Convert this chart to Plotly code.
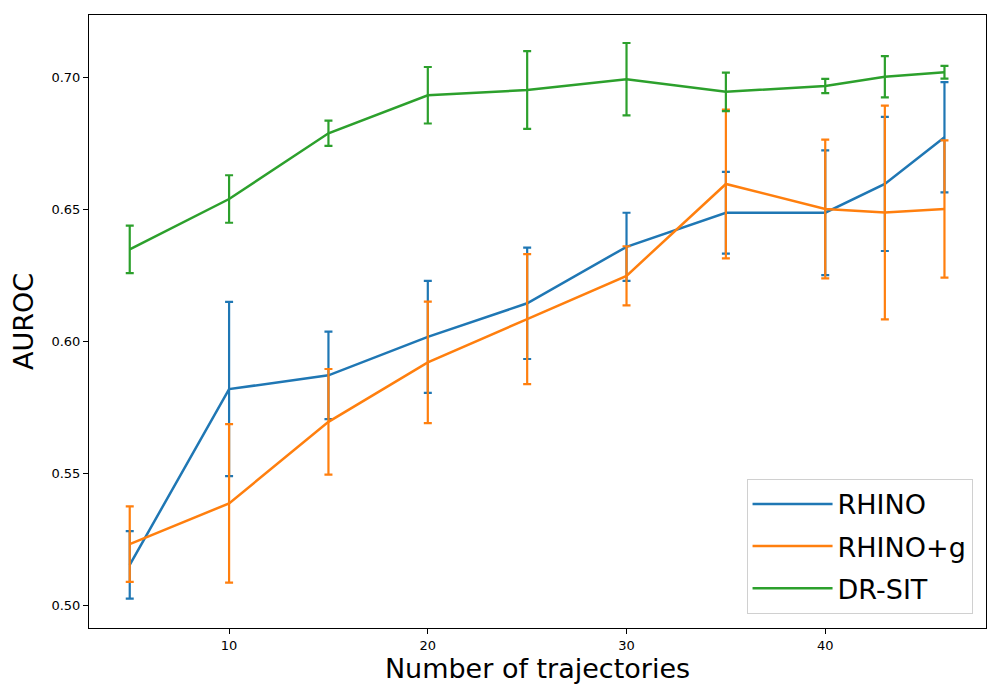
import plotly.graph_objects as go

x_vals = [5, 10, 15, 20, 25, 30, 35, 40, 43, 46]

rhino_mean = [0.5152, 0.5818, 0.5870, 0.6016, 0.6143, 0.6357, 0.6486, 0.6486, 0.6595, 0.6772]
rhino_err = [0.0128, 0.0330, 0.0166, 0.0212, 0.0211, 0.0129, 0.0155, 0.0236, 0.0254, 0.0209]

rhinog_mean = [0.5231, 0.5385, 0.5694, 0.5919, 0.6083, 0.6247, 0.6595, 0.6500, 0.6487, 0.6500]
rhinog_err = [0.0143, 0.0300, 0.0200, 0.0230, 0.0246, 0.0112, 0.0282, 0.0263, 0.0405, 0.0260]

drsit_mean = [0.6347, 0.6538, 0.6787, 0.6931, 0.6951, 0.6992, 0.6944, 0.6966, 0.7001, 0.7018]
drsit_err = [0.0090, 0.0090, 0.0048, 0.0107, 0.0147, 0.0137, 0.0073, 0.0027, 0.0078, 0.0024]

series = [
    ("RHINO", rhino_mean, rhino_err, "#1f77b4"),
    ("RHINO+g", rhinog_mean, rhinog_err, "#ff7f0e"),
    ("DR-SIT", drsit_mean, drsit_err, "#2ca02c"),
]

fig = go.Figure()
for name, m, e, c in series:
    fig.add_trace(go.Scatter(
        x=x_vals, y=m, name=name, mode="lines", legendgroup=name,
        line=dict(color=c, width=2.5),
        error_y=dict(type="data", array=e, visible=True, color=c, thickness=2.2, width=4),
    ))

fig.update_layout(
    width=1000, height=700,
    margin=dict(l=81, r=22, t=7, b=80),
    plot_bgcolor="white", paper_bgcolor="white",
    font=dict(family="DejaVu Sans", color="black"),
    showlegend=True,
    legend=dict(
        x=0.985, y=0.023, xanchor="right", yanchor="bottom",
        bgcolor="white", bordercolor="#d0d0d0", borderwidth=1,
        font=dict(size=27, family="DejaVu Sans"),
        itemwidth=80, traceorder="grouped", tracegroupgap=4,
    ),
    xaxis=dict(
        range=[2.95, 48.09], tickvals=[10, 20, 30, 40],
        showline=True, linecolor="black", linewidth=1, mirror=True,
        ticks="outside", ticklen=5, tickcolor="black",
        showgrid=False, zeroline=False, automargin=False,
        tickfont=dict(size=13),
        title=dict(text="Number of trajectories", font=dict(size=27), standoff=2),
    ),
    yaxis=dict(
        range=[0.4913, 0.7235], tickvals=[0.50, 0.55, 0.60, 0.65, 0.70], tickformat=".2f",
        showline=True, linecolor="black", linewidth=1, mirror=True,
        ticks="outside", ticklen=5, tickcolor="black",
        showgrid=False, zeroline=False, automargin=False,
        tickfont=dict(size=13),
        title=dict(text="AUROC", font=dict(size=27), standoff=14),
    ),
)

fig.write_html("out.html")
